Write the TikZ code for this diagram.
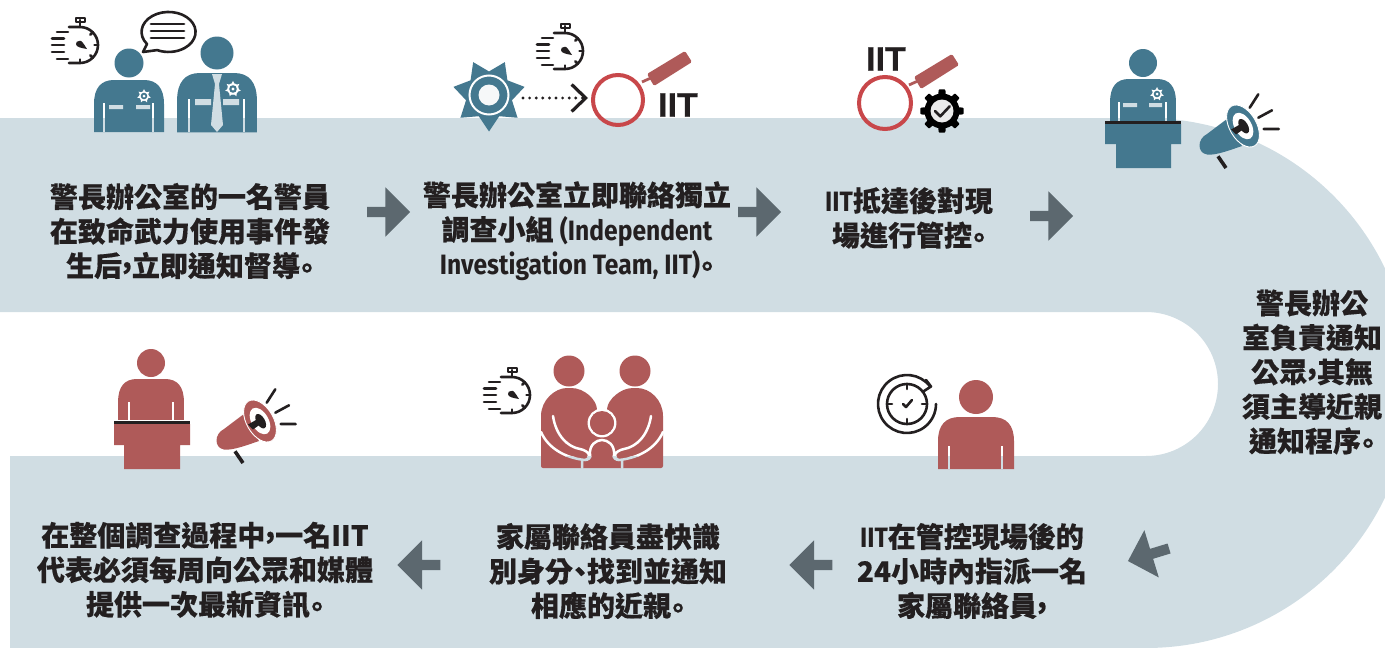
\documentclass[tikz,border=0pt]{standalone}
\usepackage{fontspec}
\setmainfont{Noto Sans CJK TC}[BoldFeatures={FakeBold=0.35}]
\newfontfamily\iitfont{Liberation Sans}[BoldFeatures={FakeBold=0.4}]
\newfontfamily\latinc[FakeStretch=0.88]{Fira Sans}
\usetikzlibrary{shapes.geometric,shapes.arrows,arrows.meta,calc}
\definecolor{bandc}{HTML}{D0DDE3}
\definecolor{iconblue}{HTML}{44788F}
\definecolor{iconred}{HTML}{AF5A59}
\definecolor{lensred}{HTML}{C8474A}
\definecolor{arrowc}{HTML}{5C686F}
\definecolor{inkc}{HTML}{231F20}
\newcommand{\cma}{\raisebox{.3em}{,}}
\newcommand{\dian}{{\addfontfeature{RawFeature=+halt}\raisebox{-.08em}{。}}}
\newcommand{\dun}{{\addfontfeature{RawFeature=+halt}、}}
\newcommand{\slit}[4]{% x, y1, ybreak, y2
  \draw[white,line width=2] (#1,#2) -- (#1,#3);
  \draw[bandc,line width=2] (#1,#3) -- (#1,#4);}
\newcommand{\famgaps}{%
  (553,416) .. controls (556,436) and (568,447) .. (580,449) .. controls (590,451) and (592,458) .. (585,460)
  .. controls (565,458) and (548,448) .. (541,432)
  (651,416) .. controls (648,436) and (636,447) .. (624,449) .. controls (614,451) and (612,458) .. (619,460)
  .. controls (639,458) and (656,448) .. (663,432)
  (582,460) -- (582,468) (622,460) -- (622,468)
  (590,455) .. controls (589,445) and (596,440) .. (602,440) .. controls (608,440) and (615,445) .. (614,455)
  .. controls (613,458) and (616,460) .. (619,460)
  (590,455) .. controls (591,458) and (588,460) .. (585,460)}
\tikzset{
  x=1pt,y=-1pt,
  textblock/.style={text=inkc,align=center,inner sep=0,font=\fontsize{28}{34.5}\selectfont\bfseries},
  blockarrow/.style={single arrow,fill=arrowc,draw=none,inner sep=5,minimum height=43,minimum width=49,
    single arrow head extend=19.5,single arrow tip angle=90,single arrow head indent=0},
  iitlabel/.style={text=inkc,inner sep=0,font=\fontsize{34}{34}\selectfont\iitfont\bfseries},
  inkline/.style={draw=inkc,line width=2.6,line cap=round,line join=round},
  lensring/.style={circle,draw=lensred,line width=4,minimum size=50,inner sep=0},
  pics/torso/.style={code={
    \fill[#1] (-35,52) -- (-35,24) .. controls (-35,8) and (-28,0) .. (-15,0) -- (15,0)
      .. controls (28,0) and (35,8) .. (35,24) -- (35,52) -- cycle;}},
  pics/stopwatch/.style={code={
    \draw[inkline] (-11,-18) -- (0,-18) arc[start angle=-90,end angle=90,radius=18] -- (-11,18);
    \draw[inkline] (0,-18) -- (0,-25);
    \draw[inkline] (-4,-27) rectangle (5,-23);
    \draw[inkline] (-23,-13) -- (-12,-13) (-28,-6.5) -- (-16,-6.5) (-28,0) -- (-16,0)
      (-28,7) -- (-16,7) (-23,14) -- (-12,14);
    \foreach \a in {-45,0,45,90}{\draw[inkline] (\a:18) -- (\a:14.5);}
    \fill[inkc] (-1,-4) .. controls (2,-5) and (3,-2) .. (7,4) .. controls (1,3) and (-4,2) .. (-4,-1) .. controls (-4,-3) and (-3,-4) .. (-1,-4) -- cycle;}},
  pics/minibadge/.style={code={
    \foreach \a in {-90,-38.6,12.9,64.3,115.7,167.1,218.6}{\fill[white] (\a-16:4.6) -- (\a:7) -- (\a+16:4.6) -- cycle;}
    \fill[white] (0,0) circle[radius=5];
    \fill[iconblue] (0,0) circle[radius=3.3];
    \fill[white] (0,0) circle[radius=1.5];}},
  pics/megaphone/.style={code={
    \fill[#1,line join=round] (-16.7,-6.5) -- (-36,8) .. controls (-46,13) and (-46,27) .. (-36,28.5)
      .. controls (-28,30) and (-10,23) .. (-1,20) -- cycle;
    \fill[#1,draw=white,line width=.9,rotate=-60] (0,0) ellipse[x radius=23,y radius=13.5];
    \fill[white,rotate=-60] (0,0) ellipse[x radius=14.5,y radius=8.5];
    \fill[inkc,rotate=-60] (0.5,-.5) ellipse[x radius=8,y radius=4.2];
    \fill[inkc] (-12,3.5) -- (-7,8.5) -- (0,3.5) -- (-4,-1) -- cycle;
    \draw[inkline,line width=2.6] (6.7,-18.3) -- (15.3,-31.7) (15.3,-8.3) -- (29,-15.7) (20.7,3) -- (35.7,3);
    \draw[inkline,line width=3.6,line cap=butt] (-25,30.3) -- (-17,42);}},
  pics/lenshandle/.style={code={
    \draw[iconred,line width=2.8] (24,-18) -- (35,-23);
    \fill[iconred,rounded corners=1.5] (29,-26) -- (67,-49) -- (74,-38) -- (36,-14) -- cycle;}},
}
\begin{document}
\begin{tikzpicture}
\useasboundingbox (0,0) rectangle (1385,648);
\begin{scope}
\clip (0,0) rectangle (1385,648);
\fill[bandc] (0,118) -- (1146,118) arc[start angle=-90,end angle=90,radius=265] -- (10,648) -- (10,456)
  -- (1146,456) arc[start angle=90,end angle=-90,radius=72] -- (0,312) -- cycle;
\end{scope}

% ---------- step 1
\pic at (80,45) {stopwatch};
\fill[iconblue] (129,63) circle[radius=14.5];
\pic at (129,80) {torso=iconblue};
\slit{104}{103}{118}{132}
\slit{153}{103}{118}{132}
\fill[bandc] (109,105) rectangle (123,109) (136,105) rectangle (150,109);
\pic at (144,96) {minibadge};
\fill[iconblue] (217,53) circle[radius=16.5];
\pic[scale=1.14] at (217,73) {torso=iconblue};
\slit{189}{99}{118}{132}
\slit{244}{99}{118}{132}
\fill[bandc] (195,99) rectangle (211,105) (223,99) rectangle (239,105);
\fill[bandc] (212,74) -- (222,74) -- (219,84) -- (223,125) -- (217,132) -- (211,125) -- (215,84) -- cycle;
\pic[scale=1.15] at (233,89) {minibadge};
\draw[inkline,fill=white] (143,52) -- (147,44) arc[start angle=143,end angle=475,x radius=27,y radius=20] -- cycle;
\draw[inkline,line width=2.8] (151,24) -- (184,24) (151,31) -- (184,31) (151,38) -- (184,38);

% ---------- step 2
\pic at (565,51) {stopwatch};
\node[star,star points=7,star point ratio=1.55,shape border rotate=180,fill=iconblue,minimum size=73,inner sep=0] (sheriff) at (489,95) {};
\draw[white,line width=2] (sheriff.center) circle[radius=19.5];
\fill[white!80!bandc] (sheriff.center) circle[radius=10.5];
\node[lensring] (lens1) at (618,100) {};
\pic at (618,100) {lenshandle};
\draw[inkc,line width=3.2,line cap=round,dash pattern=on 0pt off 6.6pt,
  -{Straight Barb[length=14,width=27,line width=3.2]}] ($(sheriff.center)+(34,3)$) -- ($(lens1.center)+(-30,-2)$);
\node[iitlabel] (iit1) at (678,105) {IIT};

% ---------- step 3
\node[iitlabel] (iit2) at (886,59) {IIT};
\node[lensring,minimum size=52] (lens2) at (885,103) {};
\pic at (885,103) {lenshandle};
\begin{scope}[shift={(942,111)}]
  \foreach \a in {0,45,...,315}{\fill[black,rounded corners=1] (\a-14:15) -- (\a-9:22) -- (\a+9:22) -- (\a+14:15) -- cycle;}
  \fill[black] (0,0) circle[radius=17.5];
  \fill[white!92!black] (0,0) circle[radius=11.5];
  \draw[inkline] (-7,0) -- (-1.7,5.3) -- (7.7,-4.7);
\end{scope}

% ---------- step 4
\fill[iconblue] (1143,63) circle[radius=14];
\pic[scale=.94] at (1143,79) {torso=iconblue};
\slit{1119}{102}{118}{121}
\slit{1166}{102}{118}{121}
\fill[bandc] (1123,103) rectangle (1137,107) (1149,103) rectangle (1162,107);
\pic at (1157,94) {minibadge};
\fill[iconblue] (1105,124) rectangle (1181,144) (1116,144) rectangle (1171,168);
\fill[inkc] (1105,121) rectangle (1181,124);
\pic at (1243,126) {megaphone=iconblue};

% ---------- step 5
\begin{scope}[shift={(907,404)}]
  \draw[inkline] (0,0) circle[radius=20];
  \draw[inkline] (-38:29) arc[start angle=-38,end angle=-360,radius=29];
  \draw[inkline] (19,-24) -- (24,-17.5) -- (17,-13);
  \draw[inkline] (0,-20) -- (0,-15) (0,20) -- (0,15) (-20,0) -- (-15,0) (20,0) -- (15,0);
  \draw[inkline] (-4,0) -- (-1,3) -- (5,-4);
\end{scope}
\fill[iconred] (976,397) circle[radius=17];
\pic[xscale=1.0857] at (976,417) {torso=iconred};
\slit{949}{446}{456}{469}
\slit{1002}{446}{456}{469}

% ---------- step 6
\pic at (512,395) {stopwatch};
\fill[iconred] (569,371) circle[radius=15.5] (635,371) circle[radius=15.5];
\fill[iconred,rounded corners=2] (541,468) -- (541,418) .. controls (541,400) and (555,388) .. (569,388)
  .. controls (585,388) and (596,400) .. (597,410) -- (598,428) -- (606,428) -- (607,410)
  .. controls (608,400) and (620,388) .. (635,388) .. controls (650,388) and (663,400) .. (663,418) -- (663,468) -- cycle;
\draw[white,line width=2.5] (602,423) circle[radius=13.2];
\fill[iconred] (602,423) circle[radius=12];
\begin{scope}
  \clip (530,380) rectangle (675,456);
  \draw[white,line width=2.5,line cap=round] \famgaps;
\end{scope}
\begin{scope}
  \clip (530,456) rectangle (675,470);
  \draw[bandc,line width=2.5,line cap=round] \famgaps;
\end{scope}

% ---------- step 7
\fill[iconred] (151,363) circle[radius=14];
\pic[scale=.94] at (151,379) {torso=iconred};
\slit{129}{402}{421}{421}
\slit{173}{402}{421}{421}
\fill[iconred] (114,424) rectangle (190,445) (124,445) rectangle (180,469);
\draw[white,line width=1] (114,420.5) -- (190,420.5);
\fill[inkc] (114,421) rectangle (190,424);
\pic at (260,421) {megaphone=iconred};

% ---------- texts
\node[textblock] (t1) at (190,231) {警長辦公室的一名警員\\在致命武力使用事件發\\生后\cma 立即通知督導\dian};
\node[textblock] (t2) at (577,231) {警長辦公室立即聯絡獨立\\調查小組 {\latinc (Independent}\\{\latinc Investigation Team, IIT)}\dian};
\node[textblock] (t3) at (909,218) {{\latinc IIT}抵達後對現\\場進行管控\dian};
\node[textblock] (t4) at (1312,372) {警長辦公\\室負責通知\\公眾\cma 其無\\須主導近親\\通知程序\dian};
\node[textblock] (t5) at (972,571) {{\latinc IIT}在管控現場後的\\24小時內指派一名\\家屬聯絡員\cma};
\node[textblock] (t6) at (608,571) {家屬聯絡員盡快識\\別身分\dun 找到並通知\\相應的近親\dian};
\node[textblock] (t7) at (205,570) {在整個調查過程中\cma 一名IIT\\代表必須每周向公眾和媒體\\提供一次最新資訊\dian};

% ---------- arrows between the steps
\node[blockarrow] (a1) at (386,212) {};
\node[blockarrow] (a2) at (757,212) {};
\node[blockarrow] (a3) at (1049,216) {};
\node[blockarrow,rotate=197] (a4) at (1151,554) {};
\node[blockarrow,rotate=180] (a5) at (813.5,565) {};
\node[blockarrow,rotate=180] (a6) at (421.5,565) {};
\end{tikzpicture}
\end{document}
